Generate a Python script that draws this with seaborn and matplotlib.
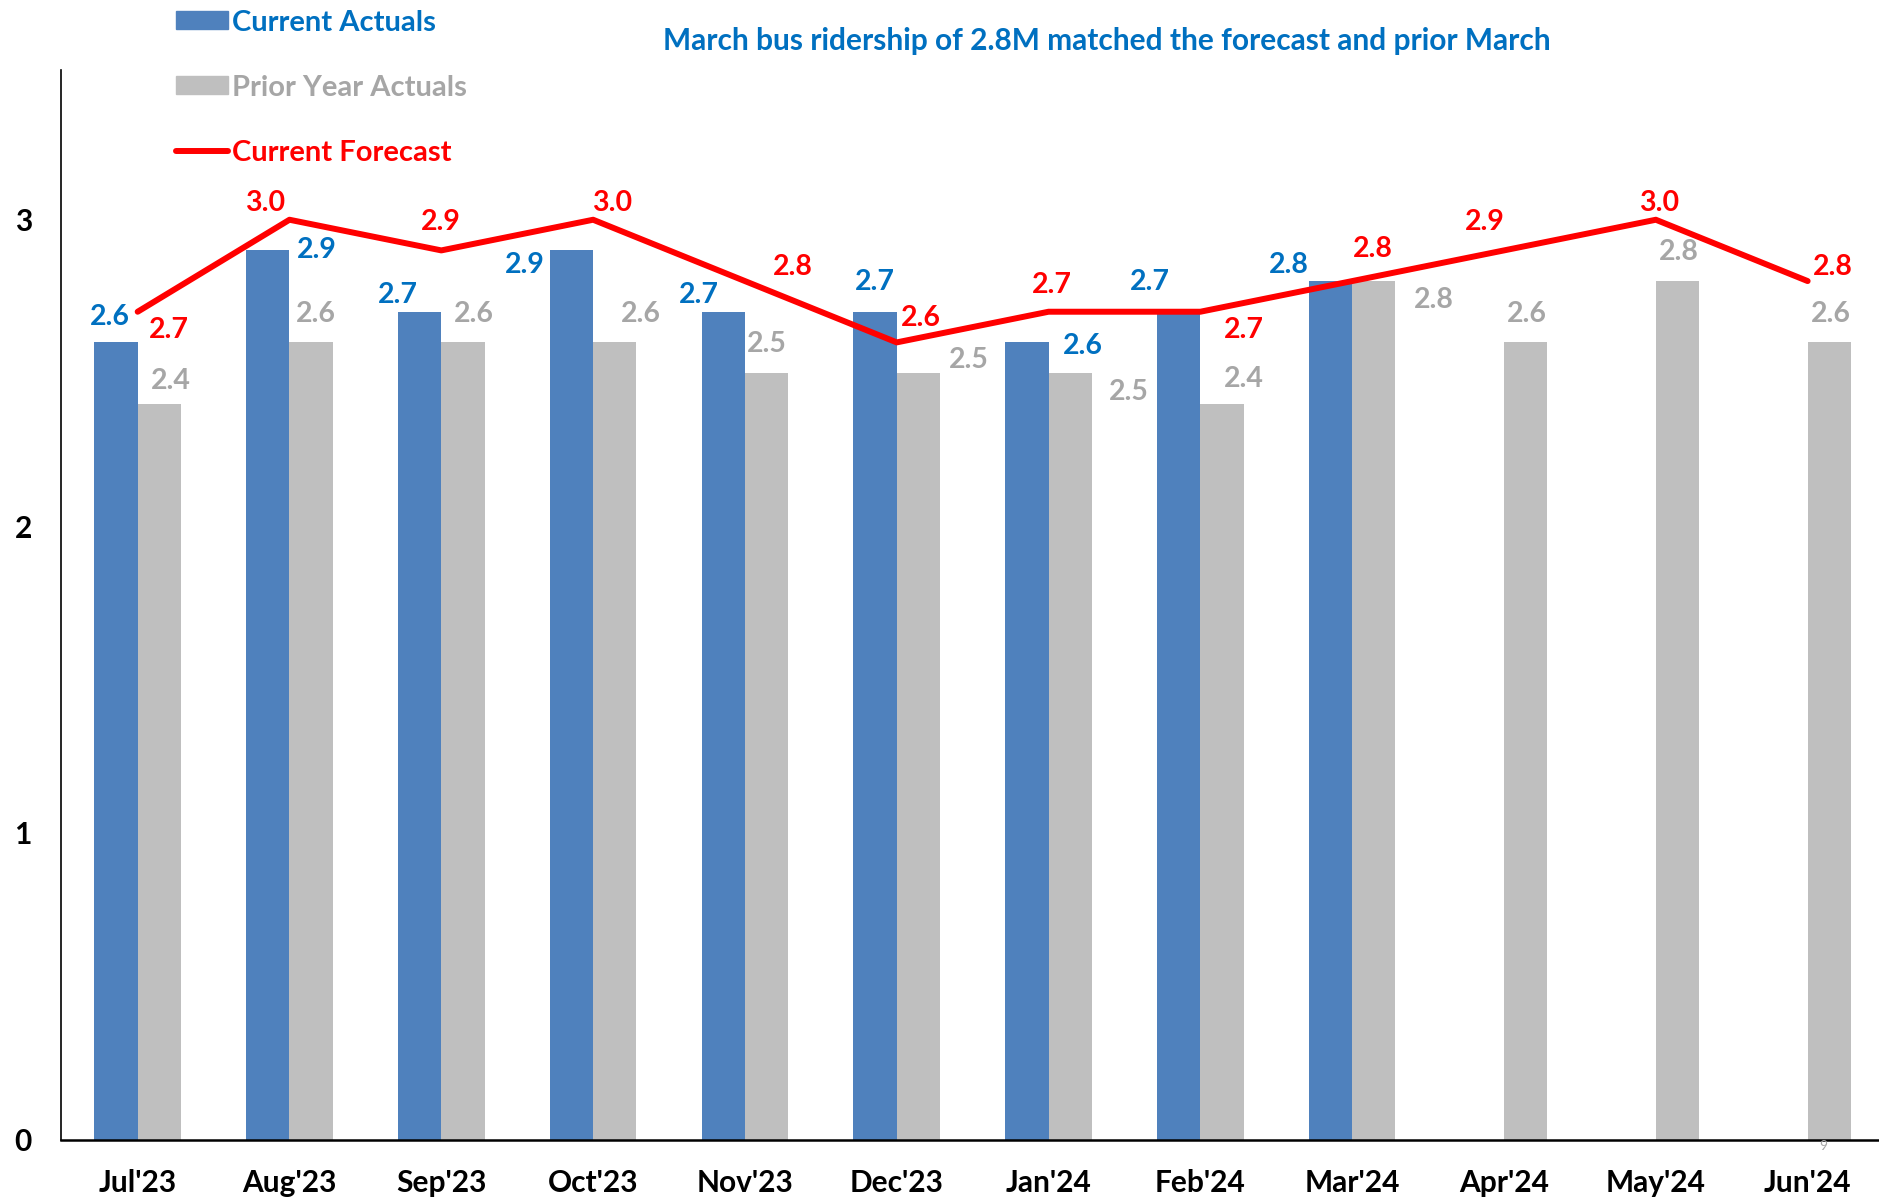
import matplotlib
matplotlib.use("Agg")
import matplotlib.pyplot as plt
import numpy as np
import pandas as pd
import seaborn as sns
from matplotlib.lines import Line2D
from matplotlib.patches import Patch


MONTHS = ["Jul'23", "Aug'23", "Sep'23", "Oct'23", "Nov'23", "Dec'23",
          "Jan'24", "Feb'24", "Mar'24", "Apr'24", "May'24", "Jun'24"]
CURRENT = [2.6, 2.9, 2.7, 2.9, 2.7, 2.7, 2.6, 2.7, 2.8, np.nan, np.nan, np.nan]
PRIOR = [2.4, 2.6, 2.6, 2.6, 2.5, 2.5, 2.5, 2.4, 2.8, 2.6, 2.8, 2.6]
FORECAST = [2.7, 3.0, 2.9, 3.0, 2.8, 2.6, 2.7, 2.7, 2.8, 2.9, 3.0, 2.8]

SERIES = ["Current Actuals", "Prior Year Actuals"]
TITLE = "March bus ridership of 2.8M matched the forecast and prior March"

# data label nudges (reference px: right, down) -- labels were hand placed
CUR_NUDGE = [(-5, -21), (41, 0), (-18, -14), (-39, 12), (-20, -14), (0, -25),
             (47, 3), (-24, -25), (-35, -13)]
PRI_NUDGE = [(10, -19), (4, -24), (9, -24), (22, -24), (0, -24), (42, -11),
             (49, 16), (18, -21), (50, 16), (1, -24), (1, -24), (1, -24)]
FC_NUDGE = [(26, 15), (-20, -14), (0, -24), (16, -14), (40, -12), (20, -20),
            (3, -22), (36, 15), (17, -27), (-16, -24), (3, -14), (21, -12)]

BLUE_BAR = "#4F81BD"
GREY_BAR = "#BFBFBF"
RED = "#FF0000"
BLUE_TXT = "#0070C0"
GREY_TXT = "#A6A6A6"
PX2PT = 0.863

sns.set_theme(style="white")
plt.rcParams["font.family"] = ["Lato", "DejaVu Sans"]

df = pd.DataFrame({
    "month": MONTHS * 2,
    "series": [SERIES[0]] * len(MONTHS) + [SERIES[1]] * len(MONTHS),
    "value": CURRENT + PRIOR,
})

fig = plt.figure(figsize=(18.79, 11.97), dpi=100)
ax = fig.add_axes([61 / 1879, 1 - 1139.6 / 1197, 1 - 61 / 1879, (1139.6 - 69.5) / 1197])

sns.barplot(data=df, x="month", y="value", hue="series", hue_order=SERIES,
            order=MONTHS, palette=[BLUE_BAR, GREY_BAR], saturation=1,
            width=0.57, gap=0, linewidth=0, errorbar=None, legend=False, ax=ax)
sns.lineplot(x=np.arange(len(MONTHS)), y=FORECAST, color=RED, lw=4.3,
             ax=ax, legend=False)

lab_kw = dict(textcoords="offset points", ha="center", va="center",
              fontsize=20.5, fontweight="bold")
for cont, nudges, col in zip(ax.containers, [CUR_NUDGE, PRI_NUDGE], [BLUE_TXT, GREY_TXT]):
    for bar in cont:
        h = bar.get_height()
        if np.isnan(h):
            continue
        xc = bar.get_x() + bar.get_width() / 2
        i = int(round(xc))
        dx, dy = nudges[i]
        ax.annotate(f"{h:.1f}", xy=(xc, h), xytext=(dx * PX2PT, -dy * PX2PT),
                    color=col, **lab_kw)
for i, v in enumerate(FORECAST):
    dx, dy = FC_NUDGE[i]
    ax.annotate(f"{v:.1f}", xy=(i, v), xytext=(dx * PX2PT, -dy * PX2PT),
                color=RED, **lab_kw)

ax.set_xlim(-0.505, 11.47)
ax.set_ylim(0, 3.49)
ax.set_yticks([0, 1, 2, 3])
ax.set_yticklabels(["0", "1", "2", "3"])
ax.set_xlabel("")
ax.set_ylabel("")
ax.tick_params(axis="both", length=0, labelsize=21.5, colors="black")
ax.tick_params(axis="x", pad=21)
ax.tick_params(axis="y", pad=21)
for t in ax.get_xticklabels() + ax.get_yticklabels():
    t.set_fontweight("bold")
for s in ["top", "right"]:
    ax.spines[s].set_visible(False)
ax.spines["bottom"].set_linewidth(1.8)
ax.spines["left"].set_linewidth(1.2)
ax.spines["bottom"].set_color("black")
ax.spines["left"].set_color("black")

handles = [Patch(color=BLUE_BAR), Patch(color=GREY_BAR),
           Line2D([], [], color=RED, lw=4.3, solid_capstyle="round")]
leg = fig.legend(handles, SERIES + ["Current Forecast"], loc="upper left",
                 bbox_to_anchor=(176 / 1879, 0.992), frameon=False,
                 prop=dict(size=21, weight="bold"), handlelength=1.78,
                 handleheight=0.57, handletextpad=0.15, labelspacing=1.34,
                 borderpad=0, borderaxespad=0)
for t, c in zip(leg.get_texts(), [BLUE_TXT, GREY_TXT, RED]):
    t.set_color(c)

fig.text(0.589, 0.966, TITLE, ha="center", va="center", color=BLUE_TXT,
         fontsize=21.5, fontweight="bold")
fig.text(1823 / 1879, 1 - 1146 / 1197, "9", ha="center", va="center",
         color=GREY_TXT, fontsize=10)

fig.savefig("out.png", dpi=100)
